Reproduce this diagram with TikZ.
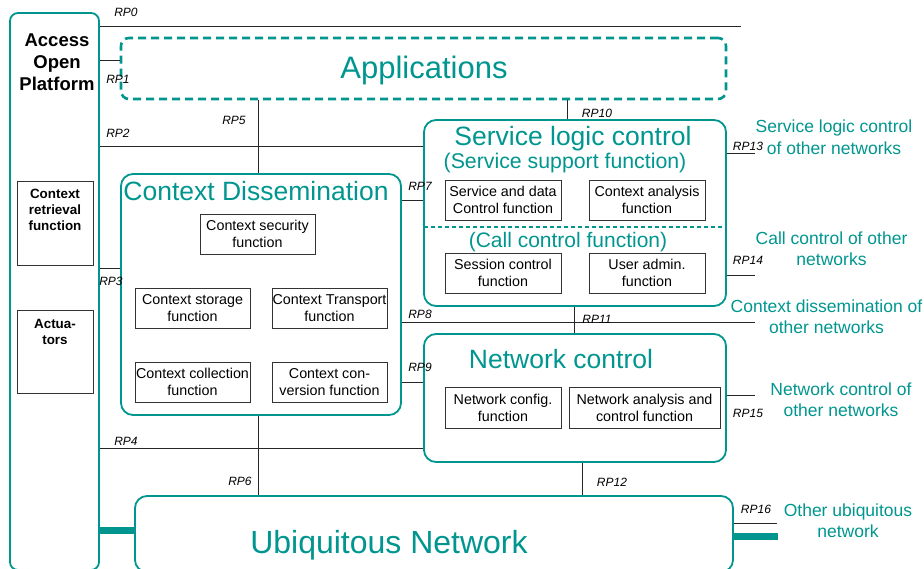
\documentclass[tikz,border=0pt]{standalone}
\usepackage{fontspec}
\setmainfont{Liberation Sans}
\definecolor{tealc}{RGB}{0,150,143}
\begin{document}
\begin{tikzpicture}[x=1pt,y=-1pt,
  group/.style={draw=tealc, line width=1.8pt, rounded corners=12pt, inner sep=0pt},
  fnbox/.style={draw=black!80, line width=0.9pt, inner sep=0pt, align=center,
    font=\fontsize{14.3}{17}\selectfont},
  leftbox/.style={draw=black!80, line width=0.9pt, inner sep=0pt},
  rp/.style={font=\fontsize{12}{14}\selectfont\itshape, inner sep=0pt},
  link/.style={draw=black!85, line width=0.9pt},
  thick link/.style={draw=tealc, line width=7pt},
  ttl/.style={text=tealc, inner sep=0pt, align=center},
  side/.style={text=tealc, inner sep=0pt, align=center, font=\fontsize{17.5}{21.5}\selectfont}]
\useasboundingbox (0,0) rectangle (924,569);

% ---- left column: access open platform
\node[group, rounded corners=8pt, minimum width=89pt, minimum height=557pt] (aop) at (54.5,291.5) {};
\node[inner sep=0pt, align=center, font=\fontsize{18.5}{22}\selectfont\bfseries] (aopt) at (57,62) {Access\\Open\\Platform};
\node[leftbox, minimum width=76pt, minimum height=84pt] (crf) at (55,223) {};
\node[inner sep=0pt, align=center, font=\fontsize{13.4}{16}\selectfont\bfseries] (crft) at (55,210) {Context\\retrieval\\function};
\node[leftbox, minimum width=76pt, minimum height=83pt] (act) at (55,351.5) {};
\node[inner sep=0pt, align=center, font=\fontsize{13.4}{16}\selectfont\bfseries] (actt) at (55,332) {Actua-\\tors};

% ---- applications
\node[draw=tealc, line width=2.6pt, dash pattern=on 8pt off 5pt, rounded corners=8pt,
  minimum width=605pt, minimum height=61pt, inner sep=0pt] (apps) at (423.5,68.5) {};
\node[ttl, font=\fontsize{31}{36}\selectfont] (appst) at (424,70) {Applications};

% ---- context dissemination
\node[group, minimum width=280pt, minimum height=241pt] (cd) at (261,294.5) {};
\node[ttl, font=\fontsize{26.5}{30}\selectfont] (cdt) at (256,191) {Context Dissemination};
\node[fnbox, minimum width=115pt, minimum height=40pt] (csec) at (257.5,234) {Context security\\function};
\node[fnbox, minimum width=115pt, minimum height=40pt] (cstor) at (192.5,308) {Context storage\\function};
\node[fnbox, minimum width=115pt, minimum height=40pt] (ctran) at (329.5,308) {Context Transport\\function};
\node[fnbox, minimum width=115pt, minimum height=40pt] (ccoll) at (192.5,382) {Context collection\\function};
\node[fnbox, minimum width=115pt, minimum height=40pt] (cconv) at (329.5,382) {Context con-\\version function};

% ---- service logic control
\node[group, minimum width=302pt, minimum height=186pt] (slc) at (575,213) {};
\node[ttl, font=\fontsize{26.5}{30}\selectfont] (slct) at (573,139) {Service logic control};
\node[ttl, font=\fontsize{21.3}{25}\selectfont] (ssft) at (565,163) {(Service support function)};
\node[fnbox, minimum width=116pt, minimum height=40pt] (sdc) at (503,200) {Service and data\\Control function};
\node[fnbox, minimum width=116pt, minimum height=40pt] (caf) at (647,200) {Context analysis\\function};
\coordinate (sepl) at (424,227);
\coordinate (sepr) at (722,227);
\draw[draw=tealc, line width=1.6pt, dash pattern=on 4pt off 3pt] (sepl) -- (sepr);
\node[ttl, font=\fontsize{21}{25}\selectfont] (ccft) at (568,242) {(Call control function)};
\node[fnbox, minimum width=116pt, minimum height=40pt] (scf) at (503,273) {Session control\\function};
\node[fnbox, minimum width=116pt, minimum height=40pt] (uaf) at (647,273) {User admin.\\function};

% ---- network control
\node[group, minimum width=302pt, minimum height=128pt] (nc) at (575,398) {};
\node[ttl, font=\fontsize{26.5}{30}\selectfont] (nct) at (561,359) {Network control};
\node[fnbox, minimum width=116pt, minimum height=41pt] (ncf) at (503,407.5) {Network config.\\function};
\node[fnbox, minimum width=151pt, minimum height=41pt] (nacf) at (644.5,407.5) {Network analysis and\\control function};

% ---- ubiquitous network
\node[group, minimum width=598pt, minimum height=76pt] (un) at (434,534) {};
\node[ttl, font=\fontsize{32}{36}\selectfont] (unt) at (389,545) {Ubiquitous Network};

% ---- free ends of outgoing reference points
\coordinate (e0) at (741,26);
\coordinate (e8) at (755,322);
\coordinate (e13) at (755,153);
\coordinate (e14) at (755,275);
\coordinate (e15) at (755,395);
\coordinate (e16) at (777,523);
\coordinate (e16b) at (778,536);

% ---- reference point links
\draw[link] (aop.east |- e0) -- (e0);
\draw[link] (aop.east |- 0,60) -- (apps.west |- 0,60);
\draw[link] (aop.east |- 0,146) -- (slc.west |- 0,146);
\draw[link] (258,0 |- apps.south) -- (258,0 |- cd.north);
\draw[link] (aop.east |- 0,268) -- (cd.west |- 0,268);
\draw[link] (aop.east |- 0,448) -- (nc.west |- 0,448);
\draw[link] (258,0 |- cd.south) -- (258,0 |- un.north);
\draw[thick link] (aop.east |- 0,530) -- (un.west |- 0,530);
\draw[link] (cd.east |- 0,200) -- (slc.west |- 0,200);
\draw[link] (cd.east |- e8) -- (e8);
\draw[link] (cd.east |- 0,382) -- (nc.west |- 0,382);
\draw[link] (567,0 |- apps.south) -- (567,0 |- slc.north);
\draw[link] (574,0 |- slc.south) -- (574,0 |- nc.north);
\draw[link] (582,0 |- nc.south) -- (582,0 |- un.north);
\draw[link] (slc.east |- e13) -- (e13);
\draw[link] (slc.east |- e14) -- (e14);
\draw[link] (nc.east |- e15) -- (e15);
\draw[link] (un.east |- e16) -- (e16);
\draw[thick link] (un.east |- e16b) -- (e16b);

% ---- reference point labels
\node[rp] (l0) at (126,12) {RP0};
\node[rp] (l1) at (118,79) {RP1};
\node[rp] (l2) at (118,133) {RP2};
\node[rp] (l3) at (111,281) {RP3};
\node[rp] (l4) at (126,441) {RP4};
\node[rp] (l5) at (234,120) {RP5};
\node[rp] (l6) at (240,481) {RP6};
\node[rp] (l7) at (420,186) {RP7};
\node[rp] (l8) at (420,314) {RP8};
\node[rp] (l9) at (420,367) {RP9};
\node[rp] (l10) at (597,113) {RP10};
\node[rp] (l11) at (597,319) {RP11};
\node[rp] (l12) at (612,482) {RP12};
\node[rp] (l13) at (748,146) {RP13};
\node[rp] (l14) at (748,260) {RP14};
\node[rp] (l15) at (748,413) {RP15};
\node[rp] (l16) at (756,509) {RP16};

% ---- external networks
\node[side] (s13) at (834,137) {Service logic control\\of other networks};
\node[side] (s14) at (831.5,248.5) {Call control of other\\networks};
\node[side] (s8) at (826.5,316.5) {Context dissemination of\\other networks};
\node[side] (s15) at (841,399.5) {Network control of\\other networks};
\node[side] (s16) at (848,520.5) {Other ubiquitous\\network};
\end{tikzpicture}
\end{document}
